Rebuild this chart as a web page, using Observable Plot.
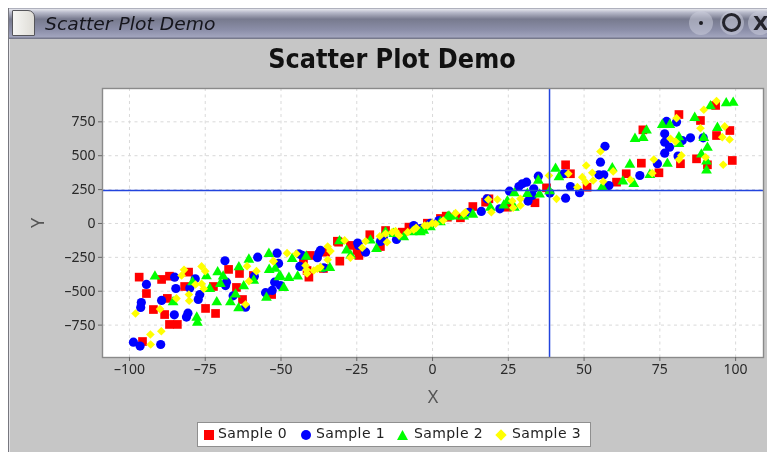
<!DOCTYPE html>
<html><head><meta charset="utf-8">
<script src="https://cdn.jsdelivr.net/npm/d3@7"></script>
<script src="https://cdn.jsdelivr.net/npm/@observablehq/plot@0.6"></script>
<style>
html,body{margin:0;padding:0;background:#fff;overflow:hidden}
#page{position:relative;width:767px;height:452px;overflow:hidden;font-family:"DejaVu Sans",sans-serif;filter:blur(.4px)}
#win{position:absolute;left:8px;top:8px;width:759px;height:444px;background:#c6c6c6;border-left:1px solid #77777f;box-shadow:inset 1px 0 0 #e4e4e8;box-sizing:border-box}
#bar{position:absolute;left:0;top:0;right:0;height:31px;background:linear-gradient(#8d8f9f 0,#e2e3ea 4%,#b9bbcb 14%,#777a8e 36%,#8b8ea8 70%,#a0a3bc 92%,#6c6e80 100%)}
#doc{position:absolute;left:3px;top:2px;width:23px;height:26px;box-sizing:border-box;background:linear-gradient(90deg,#f6f6f4,#dedcd6);border:1px solid #55555a;border-radius:1px 7px 1px 1px}
#wt{position:absolute;left:36px;top:5px;font:italic 18px "DejaVu Sans",sans-serif;color:#15151c;white-space:nowrap;transform:scaleX(1.04);transform-origin:0 0}
.btn{position:absolute;top:3px;width:24px;height:24px;border-radius:50%;background:rgba(205,207,222,.5)}
.o{position:absolute;left:713px;top:5px;width:13px;height:13px;border:3px solid #24242c;border-radius:50%}
.d{position:absolute;left:690px;top:13px;width:4px;height:4px;border-radius:50%;background:#1c1c22}
.x{position:absolute;left:744px;top:3px;font:bold 20px "DejaVu Sans",sans-serif;color:#24242c}
#title{position:absolute;left:0;top:44px;width:784px;text-align:center;font:bold 26px "DejaVu Sans",sans-serif;color:#111;transform:scaleX(.925)}
#chart{position:absolute;left:0;top:88px}
#legend{position:absolute;left:197px;top:422px;width:394px;height:25px;box-sizing:border-box;background:#fff;border:1px solid #8f8f8f;font-size:14px;color:#222}
.li{position:absolute;top:2px;letter-spacing:.4px;white-space:nowrap}
.mk{position:absolute}
</style></head>
<body><div id="page">
<div id="win"><div id="bar"><div id="doc"></div><div id="wt">Scatter Plot Demo</div>
<div class="btn" style="left:680px"></div><div class="d"></div><div class="btn" style="left:711px"></div><div class="o"></div><div class="btn" style="left:739px"></div><div class="x">X</div></div></div>
<div id="title">Scatter Plot Demo</div>
<div id="chart"></div>
<div id="legend"></div>
</div>
<script>
const names = ["Sample 0","Sample 1","Sample 2","Sample 3"];
const colors = ["#ff0000","#0000ff","#00ff00","#ffff00"];
const symbols = ["square","circle","triangle","diamond2"];
const crossX = 38.6, crossY = 243;
const xTicks = [-100,-75,-50,-25,0,25,50,75,100];
const yTicks = [-750,-500,-250,0,250,500,750];

const s0x = [-96.8,-89.4,-86.8,-80.5,-94.4,-81.8,-87.5,-92.1,-88.4,-86.8,-84.2,-95.7,-74.9,-71.6,-72.3,-67.3,-63.7,-64.7,-62.7,-59.1,-53.1,-40.8,-40.3,-36,-35.3,-30.6,-31.4,-27.1,-24.3,-20.7,-17.2,-15.5,-7.8,4.5,13.3,4.9,18.6,33.8,24.7,37.6,43.9,45.5,51,81.3,88.4,69.4,93.7,98.1,93.4,68.9,74.7,81.8,87.1,90.7,98.9,63.9,60.7,-41.4,-10,-6.7,-1.7,2.6,-24.9,-31,-42.6,9.2,17.5];
const s0y = [-396,-413,-389,-359,-517,-465,-553,-635,-672,-745,-745,-871,-627,-664,-465,-339,-369,-472,-561,-384,-524,-396,-236,-332,-212,-278,-131,-162,-236,-83,-170,-52,-27,54,125,46,182,153,120,263,433,367,268,804,760,691,649,686,871,445,374,441,477,433,465,367,305,-347,-64,-39,2,37,-199,-138,-273,42,157];
const s1x = [-98.7,-96.5,-89.7,-94.4,-96.1,-96.3,-89.4,-84.7,-85.1,-85.2,-80.7,-81.2,-78.3,-80.1,-76.8,-77.3,-68.5,-68,-68.3,-65.8,-61.7,-58.8,-57.7,-55.1,-52.9,-52.1,-51.3,-50.8,-50.2,-44.1,-43.8,-37.5,-38,-24.7,-22.1,-17.2,-11.9,-6.2,2.1,-35.9,12,16.1,22.2,25.4,28.5,29.6,31,34.9,33.4,31.5,32.9,38.7,43.9,45.5,48.5,43.3,56.9,55.4,54.9,56.5,58.2,68.4,74.2,76.6,78.2,76.6,76.6,77.2,80.5,85.1,82.4,89.3,81,-16.2,-4,-0.7,-24.4,-43,-37,18];
const s1y = [-876,-905,-893,-450,-583,-620,-568,-480,-396,-674,-662,-691,-408,-477,-524,-561,-275,-433,-458,-534,-618,-389,-249,-511,-494,-433,-219,-295,-458,-224,-317,-219,-253,-145,-212,-133,-118,-15,22,-327,83,89,108,238,273,293,305,349,256,165,207,224,187,273,227,367,570,452,359,359,280,354,441,519,563,600,662,753,748,632,612,632,497,-111,-37,0,-162,-236,-199,182];
const s2x = [-91.6,-77.8,-77.6,-85.6,-79.2,-74.6,-73.5,-71.2,-70.9,-69.1,-70,-66.7,-65,-64,-62.3,-63.9,-60.6,-59,-54,-53.9,-51.9,-54.8,-50.7,-46.3,-50.2,-47.4,-44.5,-49.1,-41.7,-33.9,-30.7,-28.4,-20.5,-18.5,-9.5,-5,-2.9,4.9,7,10.3,13.3,19.1,24.7,27,27,31.3,34.9,35.3,40.6,41.7,38.6,66.8,69.5,70.6,65.1,71.7,66.4,62.8,59.3,56,75.8,78.3,77.5,81.3,81.3,86.5,91.7,96.9,99.2,94,89.5,90.7,88.7,90.4,90.4,-15.5,-6.7,-4,-0.7,2.6,-37,-27,-12.8,5.4,23.5];
const s2y = [-391,-694,-731,-581,-433,-389,-482,-581,-359,-391,-445,-581,-524,-625,-463,-322,-266,-421,-224,-342,-334,-548,-396,-261,-391,-401,-391,-475,-244,-327,-131,-199,-125,-187,-101,-57,-52,46,52,52,66,116,165,224,116,219,317,214,404,342,238,625,632,686,435,359,293,310,408,268,728,728,441,637,588,780,866,888,891,706,632,559,509,458,391,-64,-64,-64,-27,10,-334,-236,-76,52,133];
const s3x = [-98,-93.1,-89.5,-93,-89.9,-84.5,-82.8,-82,-80.4,-80.3,-78.2,-76.2,-75.5,-76.2,-75,-61.7,-61.2,-60.6,-58.1,-52.4,-52.6,-48,-44.9,-41.6,-38,-34.6,-33.7,-34.6,-29,-27.1,-23.2,-22.1,-17.4,-15,-12.2,-11.1,-8.2,-5.4,-2.6,-0.1,3.5,7.6,10.3,18.4,21.4,19.4,26.3,29,29,26.6,38.4,44.8,40.9,47.8,49.4,50.7,50.5,55.4,52.7,59.6,56.3,53,65.3,73,72.5,80.5,78.5,80.2,82.1,81.3,89.5,93.7,88.4,96.4,95.6,98,90.1,95.9,-41.9,-41.4,-39.2,-37,-6.2,-1.7,1,-15.5,-13.3,10.9];
const s3y = [-664,-819,-795,-893,-632,-553,-384,-342,-524,-570,-450,-445,-482,-317,-352,-598,-315,-426,-352,-278,-278,-219,-224,-342,-334,-170,-204,-268,-125,-253,-179,-131,-94,-138,-57,-89,-64,-32,-15,2,22,76,72,177,177,83,165,182,133,116,354,367,182,268,342,428,305,531,374,384,310,317,322,472,371,777,625,605,502,472,839,903,703,716,637,620,489,433,-310,-369,-347,-322,-46,-15,-2,-76,-64,83];
const rs = [4.9,4.6,4,3.9];

const series = [[s0x,s0y],[s1x,s1y],[s2x,s2y],[s3x,s3y]];
const dots = series.map(([xs,ys],i)=>Plot.dot(xs.map((x,j)=>({x,y:ys[j]})),{x:"x",y:"y",symbol:()=>symbols[i],r:rs[i],fill:colors[i],stroke:"none"}));
const dash = "3,3.5";
const fmt = d => String(d).replace("-","\u2013");
const chart = Plot.plot({
  width:767,height:364,marginLeft:102,marginRight:4,marginTop:0,marginBottom:95,
  style:{background:"transparent",overflow:"visible"},
  x:{domain:[-108.9,109.2]},
  y:{domain:[-989,996]},
  symbol:{type:"identity"},
  marks:[
    Plot.frame({fill:"#fff",stroke:"none"}),
    Plot.gridX(xTicks,{stroke:"#d9d9d9",strokeOpacity:1,strokeDasharray:dash}),
    Plot.gridY(yTicks,{stroke:"#d9d9d9",strokeOpacity:1,strokeDasharray:dash}),
    ...dots,
    Plot.ruleX([crossX],{stroke:"#2244dd",strokeWidth:1.5}),
    Plot.ruleY([crossY],{stroke:"#2244dd",strokeWidth:1.5}),
    Plot.frame({stroke:"#8a8a8a",strokeWidth:1.4}),
    Plot.axisX({ticks:xTicks,tickFormat:fmt,tickSize:4,tickPadding:3,stroke:"#666",color:"#2a2a2a",fontSize:14,label:"X",labelAnchor:"center",labelArrow:"none",labelOffset:45}),
    Plot.axisY({ticks:yTicks,tickFormat:fmt,tickSize:4,tickPadding:3,stroke:"#666",color:"#2a2a2a",fontSize:14,label:"Y",labelAnchor:"center",labelArrow:"none",labelOffset:71})
  ]
});
document.getElementById("chart").appendChild(chart);
d3.select(chart).selectAll("[aria-label='x-axis label'] text,[aria-label='y-axis label'] text").style("font-size","18px").style("fill","#555");

const lg = document.getElementById("legend");
const mkCss = [
 "left:6px;top:7px;width:10px;height:10px;background:#f00",
 "left:5px;top:7px;width:10px;height:10px;border-radius:50%;background:#00f",
 "left:3px;top:7px;width:11px;height:10px;background:#0f0;clip-path:polygon(50% 0,100% 100%,0 100%)",
 "left:5px;top:8px;width:8px;height:8px;background:#ff0;transform:rotate(45deg)"];
const itemX = [0,98,196,294];
names.forEach((n,i)=>{
  const m=document.createElement("div");m.className="mk";m.style.cssText=mkCss[i];m.style.left=(parseFloat(m.style.left)+itemX[i])+"px";lg.appendChild(m);
  const t=document.createElement("div");t.className="li";t.style.left=(20+itemX[i])+"px";t.textContent=n;lg.appendChild(t);
});
</script></body></html>
